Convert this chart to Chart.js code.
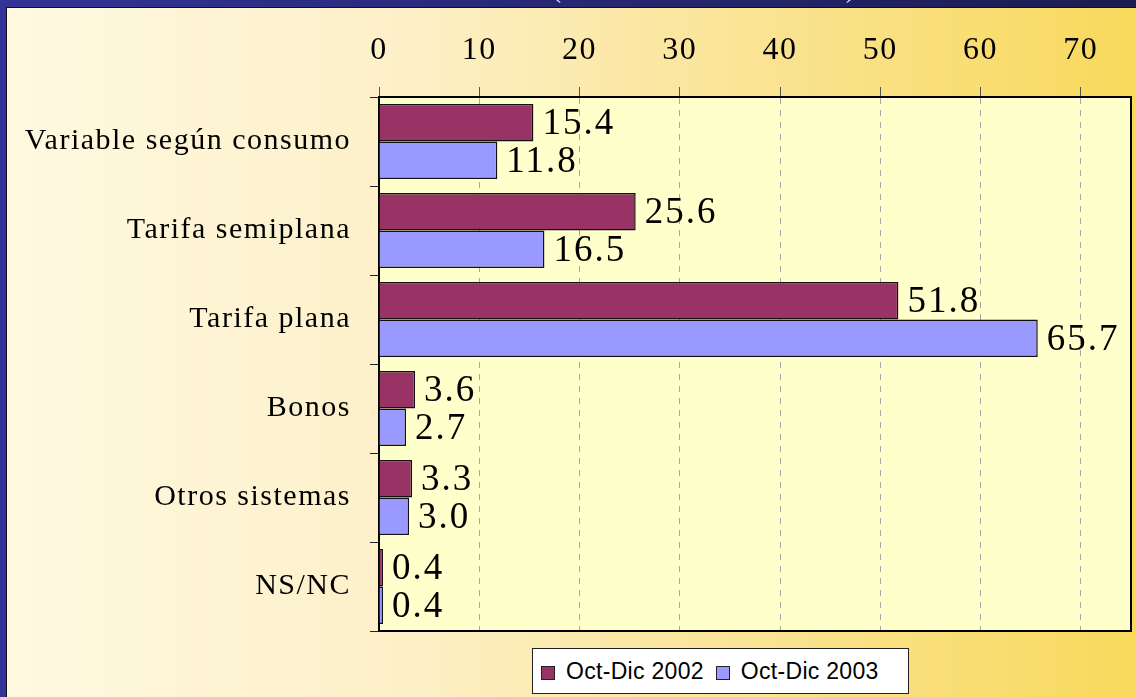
<!DOCTYPE html>
<html>
<head>
<meta charset="utf-8">
<script src="https://cdn.jsdelivr.net/npm/chart.js@4/dist/chart.umd.min.js"></script>
<style>
  html, body { margin: 0; padding: 0; background: #2a2a80; }
  #wrap { position: relative; width: 1136px; height: 697px; overflow: hidden; }
  #legend {
    position: absolute; left: 532px; top: 648px; width: 367px; height: 44px;
    background: #fff; border: 1px solid #222;
    display: flex; align-items: center; padding-left: 8px; box-sizing: content-box;
    font-family: "Liberation Sans", Arial, sans-serif; font-size: 23px; letter-spacing: 0.3px; color: #000;
  }
  #legend .sw { width: 12px; height: 12px; border: 1px solid #222; margin-right: 11px; margin-top: 3px; }
  #legend .item { display: flex; align-items: center; margin-right: 12px; }
</style>
</head>
<body>
<div id="wrap">
  <canvas id="chart" width="1136" height="697"></canvas>
  <div id="legend"></div>
</div>
<script>
const categories = ['Variable según consumo', 'Tarifa semiplana', 'Tarifa plana', 'Bonos', 'Otros sistemas', 'NS/NC'];
const series2002 = [15.4, 25.6, 51.8, 3.6, 3.3, 0.4];
const series2003 = [11.8, 16.5, 65.7, 2.7, 3.0, 0.4];
const seriesNames = ['Oct-Dic 2002', 'Oct-Dic 2003'];
const tickValues = [0, 10, 20, 30, 40, 50, 60, 70];
const axisMax = 75;

const serif = '"Liberation Serif", "Times New Roman", serif';

// panel background, navy frame and plot area fill
const backdrop = {
  id: 'backdrop',
  beforeDraw(chart) {
    const ctx = chart.ctx;
    const W = chart.width, H = chart.height;
    ctx.save();
    const navy = ctx.createLinearGradient(0, 0, W, 0);
    navy.addColorStop(0, '#333399');
    navy.addColorStop(1, '#1c1c50');
    ctx.fillStyle = navy;
    ctx.fillRect(0, 0, W, H);

    // cut-off title in the frame
    ctx.fillStyle = '#fff';
    ctx.font = '24px ' + serif;
    ctx.textBaseline = 'alphabetic';
    ctx.fillText('(', 553, -2);
    ctx.fillText(')', 846, -2);

    ctx.fillStyle = '#111';
    ctx.fillRect(6, 7, W - 6, H - 7);
    const panel = ctx.createLinearGradient(7, 0, W, 0);
    panel.addColorStop(0, '#fff9e1');
    panel.addColorStop(0.35, '#fdf0c8');
    panel.addColorStop(0.65, '#fae496');
    panel.addColorStop(1, '#f8d95c');
    ctx.fillStyle = panel;
    ctx.fillRect(7, 8, W - 7, H - 8);

    const a = chart.chartArea;
    ctx.fillStyle = '#ffffcc';
    ctx.fillRect(a.left, a.top, a.right - a.left, a.bottom - a.top);
    ctx.restore();
    ctx.letterSpacing = '1.5px';
  },
  afterDraw(chart) {
    const ctx = chart.ctx, a = chart.chartArea;
    ctx.save();
    ctx.strokeStyle = '#000';
    ctx.lineWidth = 2;
    ctx.beginPath();
    ctx.moveTo(a.left, a.bottom);
    ctx.lineTo(a.right, a.bottom);
    ctx.lineTo(a.right, a.top);
    ctx.stroke();
    ctx.restore();
  }
};

// value labels to the right of each bar
const valueLabels = {
  id: 'valueLabels',
  afterDatasetsDraw(chart) {
    const ctx = chart.ctx;
    ctx.save();
    ctx.font = '37px ' + serif;
    ctx.fillStyle = '#000';
    ctx.textAlign = 'left';
    ctx.textBaseline = 'middle';
    ctx.letterSpacing = '2px';
    chart.data.datasets.forEach((ds, i) => {
      chart.getDatasetMeta(i).data.forEach((bar, j) => {
        ctx.fillText(ds.data[j].toFixed(1), bar.x + 9, bar.y + 2);
      });
    });
    ctx.restore();
  }
};

const chart = new Chart(document.getElementById('chart'), {
  type: 'bar',
  data: {
    labels: categories,
    datasets: [
      { label: seriesNames[0], data: series2002, backgroundColor: '#993366', borderColor: '#111', borderWidth: 1.5 },
      { label: seriesNames[1], data: series2003, backgroundColor: '#9999ff', borderColor: '#111', borderWidth: 1.5 }
    ]
  },
  options: {
    indexAxis: 'y',
    responsive: false,
    animation: false,
    devicePixelRatio: 1,
    categoryPercentage: 0.843,
    barPercentage: 1.0,
    layout: { padding: { left: 0, top: 0, right: 5, bottom: 66 } },
    plugins: { legend: { display: false }, tooltip: { enabled: false } },
    scales: {
      x: {
        position: 'top',
        min: 0,
        max: axisMax,
        afterBuildTicks: axis => { axis.ticks = tickValues.map(v => ({ value: v })); },
        afterFit: s => { s.height = 97; },
        ticks: { color: '#000', padding: 17, font: { family: serif, size: 32 } },
        grid: { color: '#a8a8a8', lineWidth: 1, tickColor: '#555', tickLength: 10, drawTicks: true },
        border: { display: true, color: '#000', width: 2, dash: [6, 6] }
      },
      y: {
        afterFit: s => { s.width = 379; },
        ticks: { color: '#000', padding: 19, font: { family: serif, size: 30 } },
        grid: { drawOnChartArea: false, tickColor: '#222', tickLength: 9, lineWidth: 1 },
        border: { display: true, color: '#000', width: 2 }
      }
    }
  },
  plugins: [backdrop, valueLabels]
});

// legend built from the datasets
const legend = document.getElementById('legend');
chart.data.datasets.forEach(ds => {
  const item = document.createElement('div');
  item.className = 'item';
  const sw = document.createElement('span');
  sw.className = 'sw';
  sw.style.background = ds.backgroundColor;
  const txt = document.createElement('span');
  txt.textContent = ds.label;
  item.appendChild(sw);
  item.appendChild(txt);
  legend.appendChild(item);
});
</script>
</body>
</html>
